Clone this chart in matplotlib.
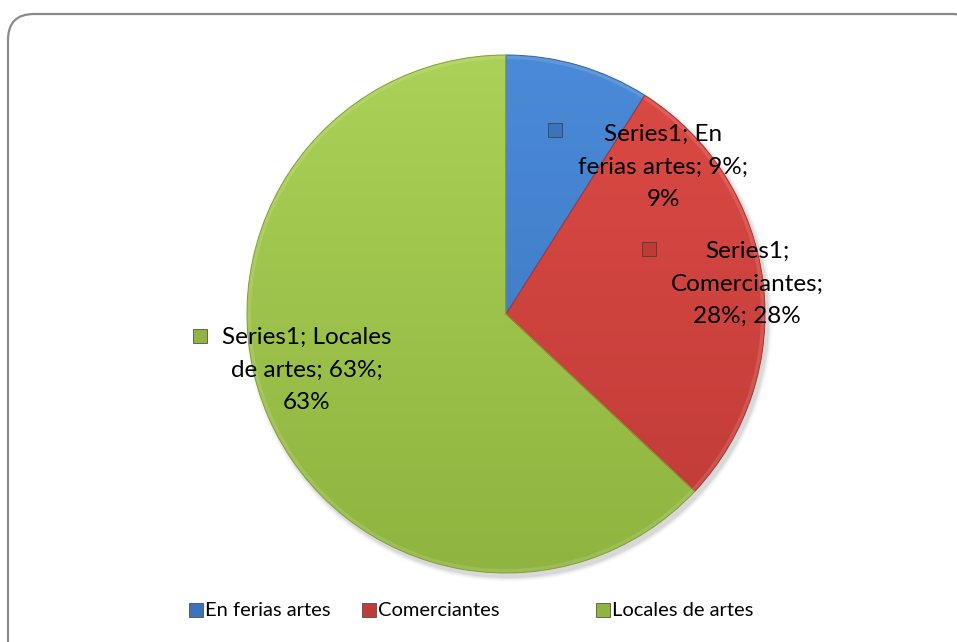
import textwrap

import matplotlib.pyplot as plt
import numpy as np
from matplotlib.colors import to_rgb
from matplotlib.patches import FancyBboxPatch, Wedge

series_name = 'Series1'
categories = ['En ferias artes', 'Comerciantes', 'Locales de artes']
shares = [9, 28, 63]
top_colors = ['#4a8ad8', '#dc4a45', '#acd158']
bottom_colors = ['#3b74bd', '#bf3b37', '#8fb43f']

W, H = 957, 642
fig = plt.figure(figsize=(W / 100, H / 100), dpi=100)
ax = fig.add_axes([0, 0, 1, 1])
ax.set_xlim(0, W)
ax.set_ylim(0, H)
ax.set_aspect('equal')
ax.axis('off')

plt.rcParams['font.family'] = ['Lato', 'DejaVu Sans']

# rounded chart-area frame
frame = FancyBboxPatch((8, -30), 970, 658, boxstyle='round,pad=0,rounding_size=26',
                       facecolor='white', edgecolor='#8a8a8a', linewidth=1.6, zorder=0)
ax.add_patch(frame)

cx, cy, r = 506, 328, 259

# soft shadow under the pie
for i, a in enumerate(np.linspace(0.05, 0.01, 5)):
    shadow = plt.Circle((cx + 3, cy - 4), r + 1 + i, color='black', alpha=a, zorder=1, lw=0)
    ax.add_patch(shadow)

wedges, _ = ax.pie(shares, startangle=90, counterclock=False, center=(cx, cy), radius=r,
                   colors=bottom_colors, wedgeprops=dict(linewidth=0, zorder=2))

# vertical gradient fill for each slice, plus a faint bevel along the rim
yy = np.linspace(1, 0, 256)[:, None, None]
for w, c0, c1 in zip(wedges, top_colors, bottom_colors):
    c0, c1 = np.array(to_rgb(c0)), np.array(to_rgb(c1))
    img = (c0 * yy + c1 * (1 - yy)) * np.ones((256, 2, 3))
    im = ax.imshow(img, extent=(cx - r, cx + r, cy - r, cy + r), origin='upper',
                   aspect='auto', zorder=3, interpolation='bilinear')
    im.set_clip_path(w)
    rim = Wedge((cx, cy), r, w.theta1, w.theta2, width=4, facecolor='white',
                alpha=0.12, linewidth=0, zorder=4)
    ax.add_patch(rim)
    outline = Wedge((cx, cy), r, w.theta1, w.theta2, fill=False, edgecolor=c1 * 0.9,
                    linewidth=0.7, zorder=4)
    ax.add_patch(outline)
ax.set_xlim(0, W)
ax.set_ylim(0, H)

# data labels
label_pos = [(663, 475), (747, 358), (307, 272)]
key_pos = [(555, 512), (649, 393), (200, 306)]
for cat, p, (tx, ty), (kx, ky), col in zip(categories, shares, label_pos, key_pos, bottom_colors):
    txt = textwrap.fill(f'{series_name}; {cat}; {p}%; {p}%', width=17)
    ax.text(tx, ty, txt, ha='center', va='center', fontsize=17.5, linespacing=1.68,
            color='black', zorder=6)
    ax.plot(kx, ky, marker='s', markersize=9.5, color=col, markeredgecolor='#3a3a3a',
            markeredgewidth=0.5, zorder=6)

# legend along the bottom
leg_x = [196, 369, 603]
for cat, col, lx in zip(categories, bottom_colors, leg_x):
    ax.plot(lx, 32, marker='s', markersize=9.5, color=col, markeredgecolor='#3a3a3a',
            markeredgewidth=0.5, zorder=6)
    ax.text(lx + 9, 32, cat, ha='left', va='center', fontsize=14.5, color='black', zorder=6)

fig.savefig('out.png', dpi=100)
